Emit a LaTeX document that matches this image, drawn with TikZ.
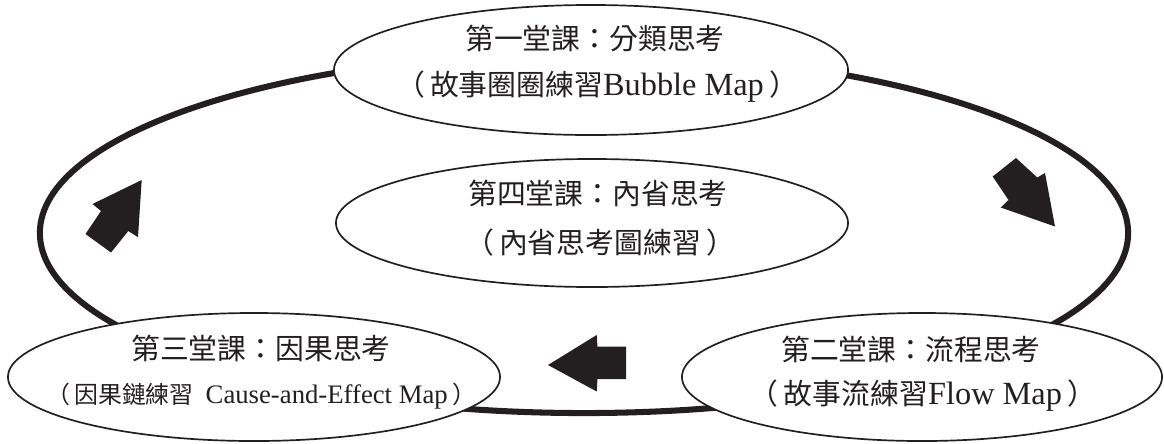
\documentclass[tikz,border=0pt]{standalone}
\usepackage{fontspec}
\setmainfont{Liberation Serif}
\newfontfamily\cjk{Noto Sans CJK TC}
\usetikzlibrary{shapes.geometric}
\definecolor{ink}{HTML}{231F20}
\newcommand\latbig[1]{{\fontsize{23}{24}\selectfont #1}}
\newcommand\latsmall[1]{{\fontsize{19}{20}\selectfont #1}}
\newcommand\lp{{\cjk （}\hspace{0.18em}}
\newcommand\rp{\hspace{0.18em}{\cjk ）}}
\begin{document}
\begin{tikzpicture}[x=0.025cm,y=-0.025cm,
  ring/.style={draw=ink, line width=4.3pt, ellipse, inner sep=0pt},
  bub/.style={draw=ink, fill=white, line width=1.2pt, ellipse, inner sep=0pt},
  txt/.style={inner sep=0pt, text=ink, font=\fontsize{20.5}{24}\selectfont},
  smalltxt/.style={inner sep=0pt, text=ink, font=\fontsize{17}{20}\selectfont},
  blk/.style={fill=ink, draw=none}]
\useasboundingbox (0,0) rectangle (1164,443);
% outer cycle
\node[ring, minimum width=27.2cm, minimum height=9cm] (ring) at (584,233) {};
% bubbles
\node[bub, minimum width=12.85cm, minimum height=3.25cm] (c1) at (591,70) {};
\node[bub, minimum width=12.8cm, minimum height=3.2cm] (c4) at (592,223) {};
\node[bub, minimum width=12.3cm, minimum height=3.2cm] (c3) at (254,377) {};
\node[bub, minimum width=12.0cm, minimum height=3.2cm] (c2) at (922,377) {};
% texts
\node[txt] (t1a) at (595,38) {\cjk 第一堂課：分類思考};
\node[txt] (t1b) at (597,87) {\lp{\cjk 故事圈圈練習}\latbig{Bubble Map}\rp};
\node[txt] (t4a) at (598,193) {\cjk 第四堂課：內省思考};
\node[txt] (t4b) at (600,243) {\lp{\cjk 內省思考圖練習}\rp};
\node[txt] (t3a) at (261,348) {\cjk 第三堂課：因果思考};
\node[smalltxt] (t3b) at (261,396) {\lp{\cjk 因果鏈練習}\ \ \latsmall{Cause-and-Effect Map}\rp};
\node[txt] (t2a) at (911,349) {\cjk 第二堂課：流程思考};
\node[txt] (t2b) at (923,396) {\lp{\cjk 故事流練習}\latbig{Flow Map}\rp};
% block arrows
\fill[blk] (141.7,180) -- (92.5,204) -- (101,211) -- (85.5,234) -- (111,252.5) -- (128.3,231) -- (138,237.2) -- cycle;
\fill[blk] (1016,158) -- (992.7,176.5) -- (1008.5,200) -- (1000.7,207.5) -- (1055,226.5) -- (1045,173) -- (1037.3,177.5) -- cycle;
\fill[blk] (548,365) -- (596.7,335) -- (597.5,346.7) -- (626,346.7) -- (626,379) -- (597.5,379) -- (596.7,391.5) -- cycle;
\end{tikzpicture}
\end{document}
